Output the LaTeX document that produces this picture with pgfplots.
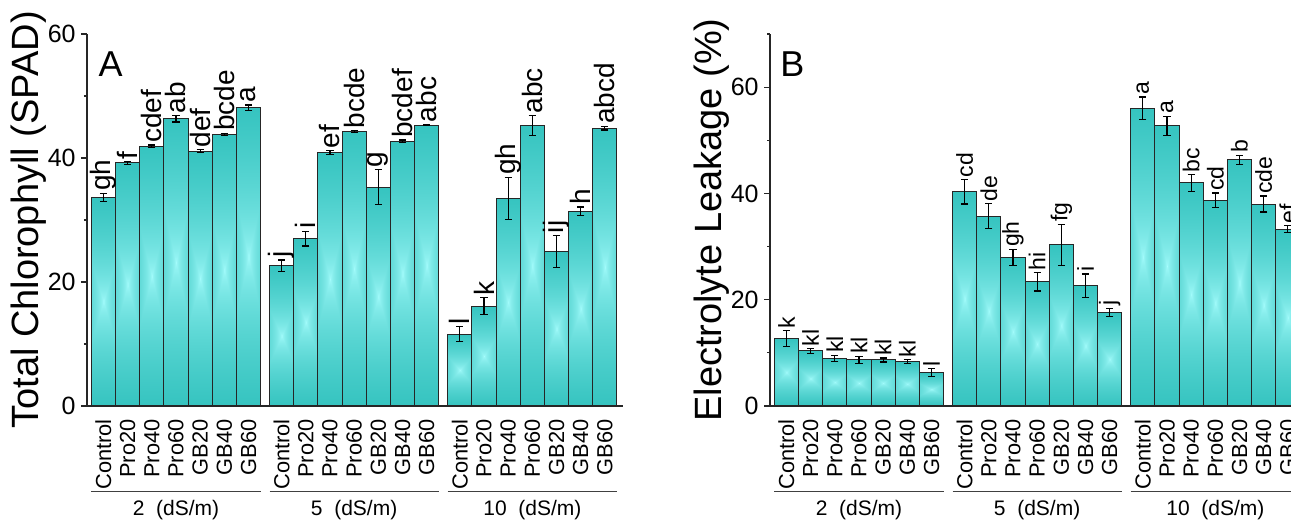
\documentclass[border=0pt]{standalone}
\usepackage{fontspec}
\setmainfont{Liberation Sans}
\usepackage{pgfplots}
\usepackage{pgfplotstable}
\pgfplotsset{compat=1.18}

\pgfdeclarefunctionalshading{barshade}{\pgfpoint{-50bp}{-50bp}}{\pgfpoint{50bp}{50bp}}{}{
  abs 50 div exch abs 50 div 0.38 mul
  2 copy lt {exch} if pop
  1.25 mul dup 1 gt {pop 1} if
  sqrt
  dup -0.577 mul 0.667 add
  exch dup -0.294 mul 1 add
  exch -0.314 mul 1 add
}

\pgfplotstableread{
x y e lab
0 33.66 0.65 gh
1 39.2 0.2 f
2 41.9 0.2 cdef
3 46.3 0.5 ab
4 41.1 0.25 def
5 43.8 0.2 bcde
6 48.1 0.45 a
7.37 22.6 0.95 j
8.37 27.0 1.2 i
9.37 40.9 0.3 ef
10.37 44.25 0.15 bcde
11.37 35.3 2.8 g
12.37 42.7 0.2 bcdef
13.37 45.3 0.1 abc
14.74 11.6 1.2 l
15.74 16.1 1.4 k
16.74 33.5 3.4 gh
17.74 45.2 1.6 abc
18.74 24.9 2.6 ij
19.74 31.4 0.7 h
20.74 44.8 0.3 abcd
}\dataA

\pgfplotstableread{
x y e lab
0 12.7 1.5 k
1 10.35 0.45 kl
2 8.97 0.6 kl
3 8.66 0.72 kl
4 8.66 0.38 kl
5 8.34 0.38 kl
6 6.27 0.72 l
7.37 40.3 2.3 cd
8.37 35.7 2.35 de
9.37 28.0 1.5 gh
10.37 23.35 1.7 hi
11.37 30.3 3.9 fg
12.37 22.65 2.2 i
13.37 17.6 0.8 j
14.74 56.05 2.1 a
15.74 52.7 1.8 a
16.74 42.0 1.57 bc
17.74 38.7 1.38 cd
18.74 46.3 0.88 b
19.74 38.0 1.5 cde
20.74 33.3 0.6 ef
}\dataB

\pgfplotsset{
  myax/.style={
    scale only axis, width=268pt, height=186pt,
    xmin=-0.68, xmax=21.49, ymin=0,
    axis x line*=bottom, axis y line*=left,
    axis line style={-, line width=0.6pt, black!85},
    clip=false,
    xtick={0,1,2,3,4,5,6,7.37,8.37,9.37,10.37,11.37,12.37,13.37,14.74,15.74,16.74,17.74,18.74,19.74,20.74},
    xticklabels={Control,Pro20,Pro40,Pro60,GB20,GB40,GB60,Control,Pro20,Pro40,Pro60,GB20,GB40,GB60,Control,Pro20,Pro40,Pro60,GB20,GB40,GB60},
    x tick style={draw=none},
    xticklabel style={rotate=90, anchor=east, inner sep=0pt, font=\fontsize{10.9}{12}\selectfont},
    xticklabel shift=3.5pt,
    tick align=outside,
    major tick length=3pt, minor tick length=1.5pt,
    y tick style={line width=0.6pt, black!85},
    yticklabel style={font=\fontsize{12.5}{14}\selectfont, inner sep=2.5pt},
    /pgf/number format/assume math mode=true,
    every axis y label/.style={at={(axis description cs:-0.108,0.5)}, rotate=90, anchor=center, font=\fontsize{19}{21}\selectfont},
  },
  mybar/.style={ybar, bar width=1, bar shift=0pt, draw=black!85, line width=0.5pt, shading=barshade, shade},
  myerr/.style={draw=none, error bars/.cd, y dir=both, y explicit,
    error bar style={draw=black, line width=0.6pt},
    error mark options={draw=black, line width=0.6pt, mark size=1.8pt, rotate=90}},
}
\tikzset{
  grplab/.style={font=\fontsize{10.5}{12}\selectfont},
  grpline/.style={black!75, line width=0.5pt},
}

\begin{document}
\begin{tikzpicture}
\useasboundingbox (0,0) rectangle (645.5pt,262.5pt);
\clip (0,0) rectangle (645.5pt,262.5pt);

% Panel A
\begin{axis}[myax, at={(43.5pt,59.5pt)}, anchor=south west,
  ymax=60, ytick={0,20,40,60}, minor ytick={10,30,50},
  ylabel={Total Chlorophyll (SPAD)}]
\pgfplotsinvokeforeach{0,...,20}{
  \addplot[mybar, restrict expr to domain={\coordindex}{#1:#1}] table[x=x,y=y] {\dataA};
}
\addplot[myerr] table[x=x,y=y,y error=e] {\dataA};
\addplot[draw=none, nodes near coords, point meta=explicit symbolic,
  nodes near coords style={rotate=90, anchor=west, inner sep=1pt, text=black, font=\fontsize{14}{16}\selectfont}]
  table[x=x, y expr=\thisrow{y}+\thisrow{e}, meta=lab] {\dataA};
\node[anchor=base west, inner sep=0pt, font=\fontsize{18}{20}\selectfont] at (axis cs:-0.22,53.1) {A};
\draw[grpline] ([yshift=-42.5pt]axis cs:-0.5,0) -- ([yshift=-42.5pt]axis cs:6.5,0);
\draw[grpline] ([yshift=-42.5pt]axis cs:6.87,0) -- ([yshift=-42.5pt]axis cs:13.87,0);
\draw[grpline] ([yshift=-42.5pt]axis cs:14.24,0) -- ([yshift=-42.5pt]axis cs:21.24,0);
\node[grplab] at ([yshift=-52pt]axis cs:3,0) {2\ \ (dS/m)};
\node[grplab] at ([yshift=-52pt]axis cs:10.37,0) {5\ \ (dS/m)};
\node[grplab] at ([yshift=-52pt]axis cs:17.74,0) {10\ \ (dS/m)};
\end{axis}

% Panel B
\begin{axis}[myax, at={(385pt,59.5pt)}, anchor=south west,
  ymax=70, ytick={0,20,40,60}, minor ytick={10,30,50,70},
  ylabel={Electrolyte Leakage (\%)}]
\pgfplotsinvokeforeach{0,...,20}{
  \addplot[mybar, restrict expr to domain={\coordindex}{#1:#1}] table[x=x,y=y] {\dataB};
}
\addplot[myerr] table[x=x,y=y,y error=e] {\dataB};
\addplot[draw=none, nodes near coords, point meta=explicit symbolic,
  nodes near coords style={rotate=90, anchor=west, inner sep=1pt, text=black, font=\fontsize{11.5}{13}\selectfont}]
  table[x=x, y expr=\thisrow{y}+\thisrow{e}, meta=lab] {\dataB};
\node[anchor=base west, inner sep=0pt, font=\fontsize{18}{20}\selectfont] at (axis cs:-0.265,62.0) {B};
\draw[grpline] ([yshift=-42.5pt]axis cs:-0.5,0) -- ([yshift=-42.5pt]axis cs:6.5,0);
\draw[grpline] ([yshift=-42.5pt]axis cs:6.87,0) -- ([yshift=-42.5pt]axis cs:13.87,0);
\draw[grpline] ([yshift=-42.5pt]axis cs:14.24,0) -- ([yshift=-42.5pt]axis cs:21.24,0);
\node[grplab] at ([yshift=-52pt]axis cs:3,0) {2\ \ (dS/m)};
\node[grplab] at ([yshift=-52pt]axis cs:10.37,0) {5\ \ (dS/m)};
\node[grplab] at ([yshift=-52pt]axis cs:17.74,0) {10\ \ (dS/m)};
\end{axis}
\end{tikzpicture}
\end{document}
